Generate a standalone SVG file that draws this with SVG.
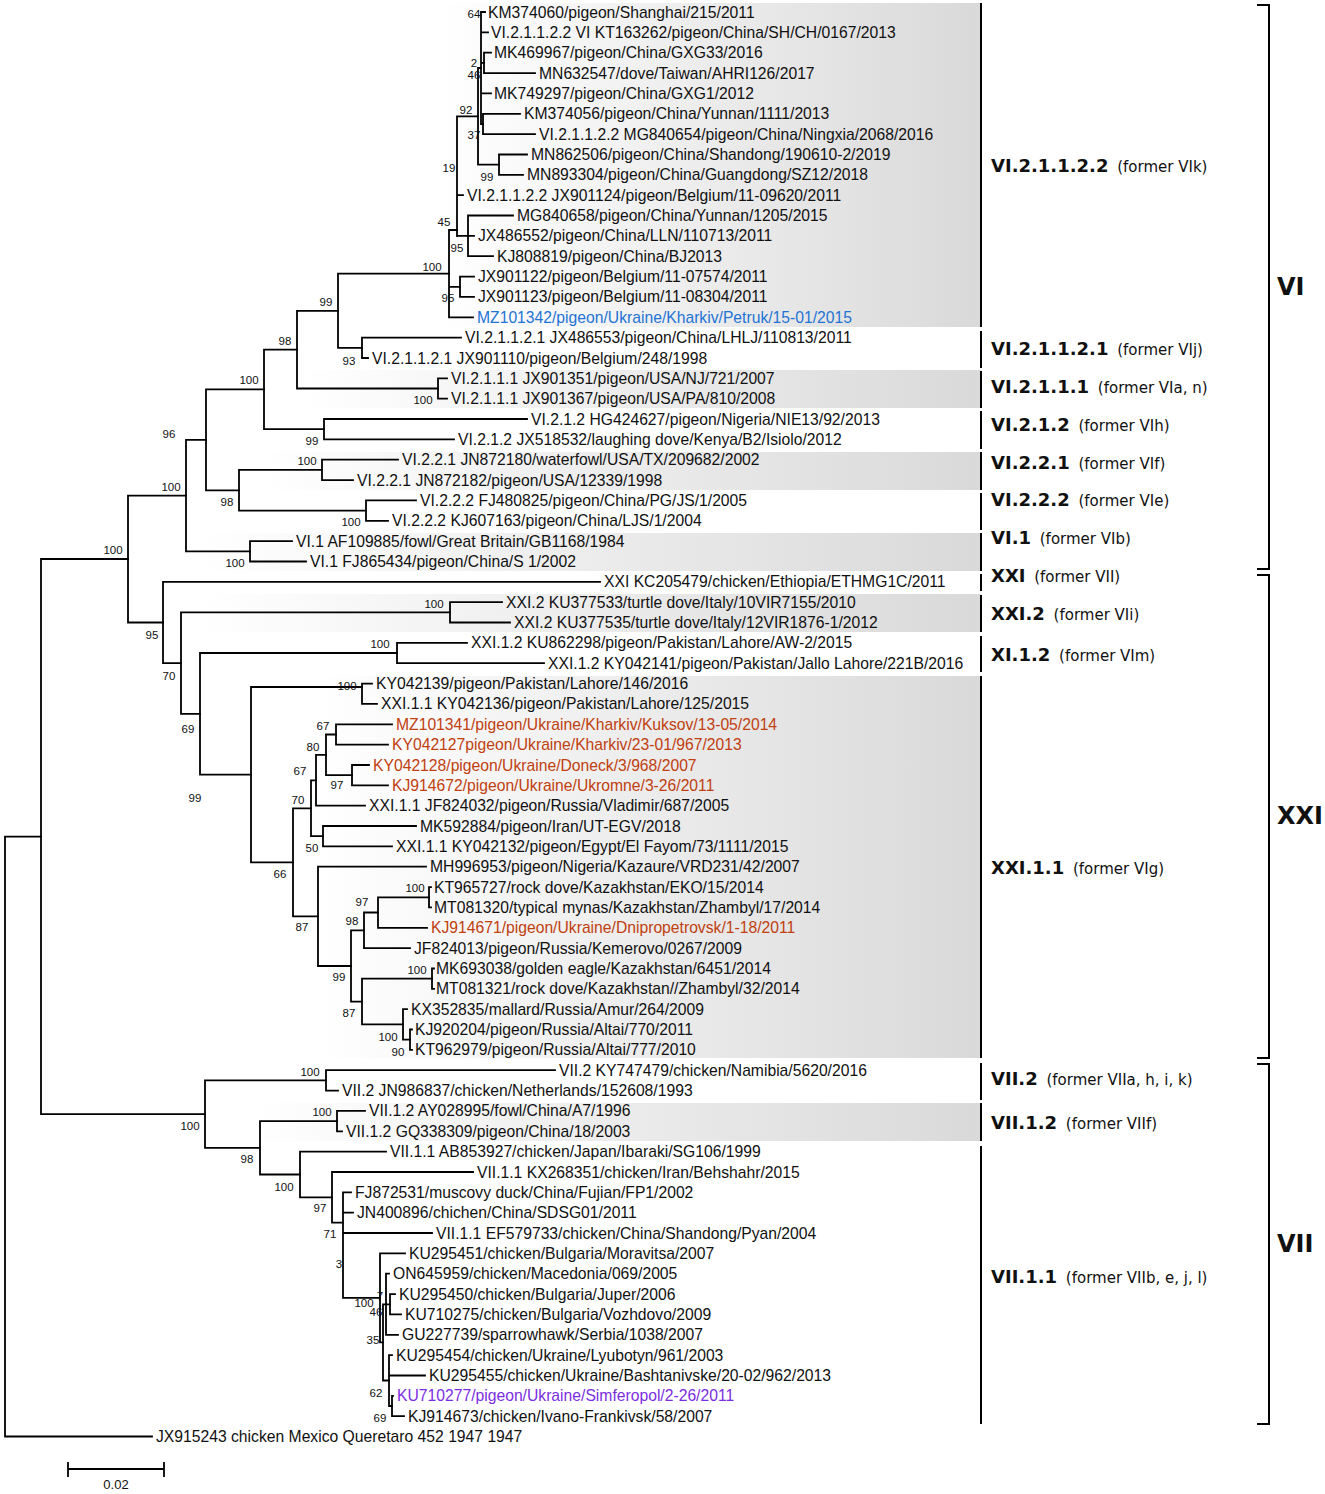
<svg xmlns="http://www.w3.org/2000/svg" width="1325" height="1494" viewBox="0 0 1325 1494">
<defs>
<linearGradient id="shade" x1="0" y1="0" x2="1" y2="0">
<stop offset="0" stop-color="#ffffff"/>
<stop offset="1" stop-color="#d9d9d9"/>
</linearGradient>
<style>
.br{stroke:#000;stroke-width:1.8;fill:none;stroke-linecap:square}
.sep{stroke:#000;stroke-width:2;fill:none}
.lf{font-family:"Liberation Sans",Arial,sans-serif;font-size:15.7px;fill:#111}
.blue{fill:#1f74d4}
.red{fill:#c0400f}
.pur{fill:#7b2ee0}
.bs{font-family:"Liberation Sans",Arial,sans-serif;font-size:11.5px;text-anchor:middle;fill:#111}
.cl{font-family:"DejaVu Sans",Verdana,sans-serif;font-size:15px;fill:#111}
.clb{font-weight:bold;font-size:18px}
.big{font-family:"DejaVu Sans",Verdana,sans-serif;font-size:24px;font-weight:bold;fill:#111}
.band{fill:url(#shade)}
</style>
</defs>
<rect width="1325" height="1494" fill="#fff"/>
<g id="bands">
<rect class="band" x="440" y="3" width="541" height="324"/>
<rect class="band" x="300" y="370" width="681" height="38"/>
<rect class="band" x="260" y="452" width="721" height="38"/>
<rect class="band" x="200" y="533" width="781" height="38"/>
<rect class="band" x="200" y="594" width="781" height="38"/>
<rect class="band" x="320" y="676" width="661" height="382"/>
<rect class="band" x="250" y="1103" width="731" height="38"/>
</g>
<g id="connectors" class="br">
<path d="M481,12V124M481,12H485M481,32.4H488M481,62.9H484M481,93.4H491M481,124H483"/>
<path d="M484,52.7V73.1M484,52.7H491M484,73.1H535"/>
<path d="M483,113.8V134.1M483,113.8H520M483,134.1H535"/>
<path d="M478,68V164.7M478,68H481M478,164.7H499"/>
<path d="M499,154.5V174.8M499,154.5H527M499,174.8H523"/>
<path d="M457,116.4V236M457,116.4H478M457,195.2H463M457,235.9H474"/>
<path d="M468,215.5V256.2M468,215.5H513M468,256.2H493"/>
<path d="M449,230V317.3M449,230H457M449,286.8H460M449,317.3H473"/>
<path d="M460,276.6V296.9M460,276.6H474M460,296.9H474"/>
<path d="M338,273.7V347.8M338,273.7H449M338,347.8H362"/>
<path d="M362,337.6V358M362,337.6H461M362,358H368"/>
<path d="M297,310.8V388.5M297,310.8H338M297,388.5H438"/>
<path d="M438,378.3V398.7M438,378.3H447M438,398.7H447"/>
<path d="M264,349.6V429.2M264,349.6H297M264,429.2H324"/>
<path d="M324,419V439.4M324,419H527M324,439.4H454"/>
<path d="M206,389.4V490.3M206,389.4H264M206,490.3H239"/>
<path d="M239,469.9V510.6M239,469.9H322M239,510.6H366"/>
<path d="M322,459.7V480.1M322,459.7H398M322,480.1H353"/>
<path d="M366,500.4V520.8M366,500.4H416M366,520.8H388"/>
<path d="M186,439.9V551.3M186,439.9H206M186,551.3H250"/>
<path d="M250,541.1V561.5M250,541.1H292M250,561.5H306"/>
<path d="M128,495.6V622.5M128,495.6H186M128,622.5H163"/>
<path d="M163,581.8V663.2M163,581.8H600M163,663.2H181"/>
<path d="M181,612.4V713.9M181,612.4H450M181,713.9H200"/>
<path d="M450,602.2V622.5M450,602.2H502M450,622.5H510"/>
<path d="M200,653V774.7M200,653H397M200,774.7H251"/>
<path d="M397,642.9V663.2M397,642.9H467M397,663.2H544"/>
<path d="M251,687V862.4M251,687H362M251,862.4H293"/>
<path d="M362,683.6V703.9M362,683.6H372M362,703.9H377"/>
<path d="M293,808.3V916.4M293,808.3H311M293,916.4H318"/>
<path d="M311,780.3V836.2M311,780.3H316M311,836.2H323"/>
<path d="M316,754.8V805.7M316,754.8H326M316,805.7H365"/>
<path d="M326,734.5V775.2M326,734.5H336M326,775.2H352"/>
<path d="M336,724.3V744.6M336,724.3H392M336,744.6H388"/>
<path d="M352,765V785.3M352,765H369M352,785.3H388"/>
<path d="M323,826V846.4M323,826H416M323,846.4H392"/>
<path d="M318,866.7V966M318,866.7H426M318,966H351"/>
<path d="M351,930.3V1001.6M351,930.3H364M351,1001.6H362"/>
<path d="M364,912.5V948.1M364,912.5H378M364,948.1H410"/>
<path d="M378,897.3V927.8M378,897.3H429M378,927.8H427"/>
<path d="M429,887.1V907.4M429,887.1H431M429,907.4H431"/>
<path d="M362,978.7V1024.4M362,978.7H432M362,1024.4H403"/>
<path d="M432,968.5V988.8M432,968.5H434M432,988.8H434"/>
<path d="M403,1009.2V1039.7M403,1009.2H407M403,1039.7H410"/>
<path d="M410,1029.5V1049.9M410,1029.5H412M410,1049.9H412"/>
<path d="M41,559V1114.1M41,559H128M41,1114.1H205"/>
<path d="M205,1080.4V1147.8M205,1080.4H326M205,1147.8H260"/>
<path d="M326,1070.2V1090.6M326,1070.2H555M326,1090.6H338"/>
<path d="M260,1121.1V1174.5M260,1121.1H337M260,1174.5H300"/>
<path d="M337,1110.9V1131.3M337,1110.9H365M337,1131.3H342"/>
<path d="M300,1151.6V1197.4M300,1151.6H386M300,1197.4H332"/>
<path d="M332,1172V1222.7M332,1172H473M332,1222.7H343"/>
<path d="M343,1192.3V1297.9M343,1192.3H351M343,1212.7H353M343,1233H432M343,1297.9H380"/>
<path d="M380,1253.4V1342.4M380,1253.4H405M380,1342.4H383"/>
<path d="M383,1304.3V1380.5M383,1304.3H386M383,1380.5H389"/>
<path d="M386,1273.7V1334.8M386,1273.7H389M386,1304.3H390M386,1334.8H398"/>
<path d="M390,1294.1V1314.4M390,1294.1H395M390,1314.4H401"/>
<path d="M389,1355.1V1406M389,1355.1H392M389,1375.5H425M389,1406H392"/>
<path d="M392,1395.8V1416.2M392,1395.8H393M392,1416.2H404"/>
<path d="M5,836.6V1436.5M5,836.6H41M5,1436.5H152"/>
</g>
<g id="support" class="bs">
<text x="474" y="18">64</text><text x="474" y="67">2</text><text x="474" y="79">46</text><text x="466" y="114">92</text><text x="474" y="139">37</text><text x="487" y="181">99</text><text x="449" y="172">19</text><text x="444" y="226">45</text><text x="457" y="252">95</text><text x="448" y="302">95</text><text x="432" y="271">100</text>
<text x="326" y="306">99</text><text x="349" y="365">93</text><text x="285" y="345">98</text><text x="423" y="404">100</text><text x="249" y="384">100</text><text x="312" y="445">99</text><text x="169" y="438">96</text><text x="307" y="465">100</text><text x="227" y="506">98</text><text x="351" y="526">100</text><text x="171" y="491">100</text><text x="235" y="567">100</text><text x="113" y="554">100</text>
<text x="152" y="639">95</text><text x="434" y="608">100</text><text x="169" y="680">70</text><text x="380" y="648">100</text><text x="188" y="733">69</text><text x="195" y="802">99</text><text x="347" y="690">100</text><text x="323" y="730">67</text><text x="313" y="751">80</text><text x="300" y="775">67</text><text x="337" y="789">97</text><text x="298" y="804">70</text><text x="312" y="852">50</text><text x="280" y="878">66</text><text x="302" y="931">87</text><text x="362" y="906">97</text><text x="352" y="925">98</text><text x="415" y="892">100</text><text x="339" y="981">99</text><text x="417" y="974">100</text><text x="349" y="1017">87</text><text x="388" y="1041">100</text><text x="398" y="1056">90</text>
<text x="310" y="1076">100</text><text x="190" y="1130">100</text><text x="322" y="1116">100</text><text x="247" y="1163">98</text><text x="284" y="1191">100</text><text x="320" y="1212">97</text><text x="330" y="1238">71</text><text x="339" y="1268">3</text><text x="380" y="1300">7</text><text x="364" y="1307">100</text><text x="376" y="1316">46</text><text x="373" y="1344">35</text><text x="376" y="1397">62</text><text x="380" y="1422">69</text>
</g>
<g id="leaves" class="lf">
<g id="leaf0"><text x="488" y="17.5">KM374060/pigeon/Shanghai/215/2011</text></g>
<g id="leaf1"><text x="491" y="37.9">VI.2.1.1.2.2 VI KT163262/pigeon/China/SH/CH/0167/2013</text></g>
<g id="leaf2"><text x="494" y="58.2">MK469967/pigeon/China/GXG33/2016</text></g>
<g id="leaf3"><text x="539" y="78.6">MN632547/dove/Taiwan/AHRI126/2017</text></g>
<g id="leaf4"><text x="494" y="98.9">MK749297/pigeon/China/GXG1/2012</text></g>
<g id="leaf5"><text x="524" y="119.3">KM374056/pigeon/China/Yunnan/1111/2013</text></g>
<g id="leaf6"><text x="539" y="139.6">VI.2.1.1.2.2 MG840654/pigeon/China/Ningxia/2068/2016</text></g>
<g id="leaf7"><text x="531" y="160">MN862506/pigeon/China/Shandong/190610-2/2019</text></g>
<g id="leaf8"><text x="527" y="180.3">MN893304/pigeon/China/Guangdong/SZ12/2018</text></g>
<g id="leaf9"><text x="467" y="200.7">VI.2.1.1.2.2 JX901124/pigeon/Belgium/11-09620/2011</text></g>
<g id="leaf10"><text x="517" y="221">MG840658/pigeon/China/Yunnan/1205/2015</text></g>
<g id="leaf11"><text x="478" y="241.4">JX486552/pigeon/China/LLN/110713/2011</text></g>
<g id="leaf12"><text x="497" y="261.7">KJ808819/pigeon/China/BJ2013</text></g>
<g id="leaf13"><text x="478" y="282.1">JX901122/pigeon/Belgium/11-07574/2011</text></g>
<g id="leaf14"><text x="478" y="302.4">JX901123/pigeon/Belgium/11-08304/2011</text></g>
<g id="leaf15"><text class="blue" x="477" y="322.8">MZ101342/pigeon/Ukraine/Kharkiv/Petruk/15-01/2015</text></g>
<g id="leaf16"><text x="465" y="343.1">VI.2.1.1.2.1 JX486553/pigeon/China/LHLJ/110813/2011</text></g>
<g id="leaf17"><text x="372" y="363.5">VI.2.1.1.2.1 JX901110/pigeon/Belgium/248/1998</text></g>
<g id="leaf18"><text x="451" y="383.8">VI.2.1.1.1 JX901351/pigeon/USA/NJ/721/2007</text></g>
<g id="leaf19"><text x="451" y="404.2">VI.2.1.1.1 JX901367/pigeon/USA/PA/810/2008</text></g>
<g id="leaf20"><text x="531" y="424.5">VI.2.1.2 HG424627/pigeon/Nigeria/NIE13/92/2013</text></g>
<g id="leaf21"><text x="458" y="444.9">VI.2.1.2 JX518532/laughing dove/Kenya/B2/Isiolo/2012</text></g>
<g id="leaf22"><text x="402" y="465.2">VI.2.2.1 JN872180/waterfowl/USA/TX/209682/2002</text></g>
<g id="leaf23"><text x="357" y="485.6">VI.2.2.1 JN872182/pigeon/USA/12339/1998</text></g>
<g id="leaf24"><text x="420" y="505.9">VI.2.2.2 FJ480825/pigeon/China/PG/JS/1/2005</text></g>
<g id="leaf25"><text x="392" y="526.3">VI.2.2.2 KJ607163/pigeon/China/LJS/1/2004</text></g>
<g id="leaf26"><text x="296" y="546.6">VI.1 AF109885/fowl/Great Britain/GB1168/1984</text></g>
<g id="leaf27"><text x="310" y="567">VI.1 FJ865434/pigeon/China/S 1/2002</text></g>
<g id="leaf28"><text x="604" y="587.3">XXI KC205479/chicken/Ethiopia/ETHMG1C/2011</text></g>
<g id="leaf29"><text x="506" y="607.7">XXI.2 KU377533/turtle dove/Italy/10VIR7155/2010</text></g>
<g id="leaf30"><text x="514" y="628">XXI.2 KU377535/turtle dove/Italy/12VIR1876-1/2012</text></g>
<g id="leaf31"><text x="471" y="648.4">XXI.1.2 KU862298/pigeon/Pakistan/Lahore/AW-2/2015</text></g>
<g id="leaf32"><text x="548" y="668.7">XXI.1.2 KY042141/pigeon/Pakistan/Jallo Lahore/221B/2016</text></g>
<g id="leaf33"><text x="376" y="689.1">KY042139/pigeon/Pakistan/Lahore/146/2016</text></g>
<g id="leaf34"><text x="381" y="709.4">XXI.1.1 KY042136/pigeon/Pakistan/Lahore/125/2015</text></g>
<g id="leaf35"><text class="red" x="396" y="729.8">MZ101341/pigeon/Ukraine/Kharkiv/Kuksov/13-05/2014</text></g>
<g id="leaf36"><text class="red" x="392" y="750.1">KY042127pigeon/Ukraine/Kharkiv/23-01/967/2013</text></g>
<g id="leaf37"><text class="red" x="373" y="770.5">KY042128/pigeon/Ukraine/Doneck/3/968/2007</text></g>
<g id="leaf38"><text class="red" x="392" y="790.8">KJ914672/pigeon/Ukraine/Ukromne/3-26/2011</text></g>
<g id="leaf39"><text x="369" y="811.2">XXI.1.1 JF824032/pigeon/Russia/Vladimir/687/2005</text></g>
<g id="leaf40"><text x="420" y="831.5">MK592884/pigeon/Iran/UT-EGV/2018</text></g>
<g id="leaf41"><text x="396" y="851.9">XXI.1.1 KY042132/pigeon/Egypt/El Fayom/73/1111/2015</text></g>
<g id="leaf42"><text x="430" y="872.2">MH996953/pigeon/Nigeria/Kazaure/VRD231/42/2007</text></g>
<g id="leaf43"><text x="434" y="892.6">KT965727/rock dove/Kazakhstan/EKO/15/2014</text></g>
<g id="leaf44"><text x="434" y="912.9">MT081320/typical mynas/Kazakhstan/Zhambyl/17/2014</text></g>
<g id="leaf45"><text class="red" x="431" y="933.3">KJ914671/pigeon/Ukraine/Dnipropetrovsk/1-18/2011</text></g>
<g id="leaf46"><text x="414" y="953.6">JF824013/pigeon/Russia/Kemerovo/0267/2009</text></g>
<g id="leaf47"><text x="436" y="974">MK693038/golden eagle/Kazakhstan/6451/2014</text></g>
<g id="leaf48"><text x="436" y="994.3">MT081321/rock dove/Kazakhstan//Zhambyl/32/2014</text></g>
<g id="leaf49"><text x="411" y="1014.7">KX352835/mallard/Russia/Amur/264/2009</text></g>
<g id="leaf50"><text x="415" y="1035">KJ920204/pigeon/Russia/Altai/770/2011</text></g>
<g id="leaf51"><text x="415" y="1055.4">KT962979/pigeon/Russia/Altai/777/2010</text></g>
<g id="leaf52"><text x="559" y="1075.7">VII.2 KY747479/chicken/Namibia/5620/2016</text></g>
<g id="leaf53"><text x="342" y="1096.1">VII.2 JN986837/chicken/Netherlands/152608/1993</text></g>
<g id="leaf54"><text x="369" y="1116.4">VII.1.2 AY028995/fowl/China/A7/1996</text></g>
<g id="leaf55"><text x="346" y="1136.8">VII.1.2 GQ338309/pigeon/China/18/2003</text></g>
<g id="leaf56"><text x="390" y="1157.1">VII.1.1 AB853927/chicken/Japan/Ibaraki/SG106/1999</text></g>
<g id="leaf57"><text x="477" y="1177.5">VII.1.1 KX268351/chicken/Iran/Behshahr/2015</text></g>
<g id="leaf58"><text x="355" y="1197.8">FJ872531/muscovy duck/China/Fujian/FP1/2002</text></g>
<g id="leaf59"><text x="357" y="1218.2">JN400896/chichen/China/SDSG01/2011</text></g>
<g id="leaf60"><text x="436" y="1238.5">VII.1.1 EF579733/chicken/China/Shandong/Pyan/2004</text></g>
<g id="leaf61"><text x="409" y="1258.9">KU295451/chicken/Bulgaria/Moravitsa/2007</text></g>
<g id="leaf62"><text x="393" y="1279.2">ON645959/chicken/Macedonia/069/2005</text></g>
<g id="leaf63"><text x="399" y="1299.6">KU295450/chicken/Bulgaria/Juper/2006</text></g>
<g id="leaf64"><text x="405" y="1319.9">KU710275/chicken/Bulgaria/Vozhdovo/2009</text></g>
<g id="leaf65"><text x="402" y="1340.3">GU227739/sparrowhawk/Serbia/1038/2007</text></g>
<g id="leaf66"><text x="396" y="1360.6">KU295454/chicken/Ukraine/Lyubotyn/961/2003</text></g>
<g id="leaf67"><text x="429" y="1381">KU295455/chicken/Ukraine/Bashtanivske/20-02/962/2013</text></g>
<g id="leaf68"><text class="pur" x="397" y="1401.3">KU710277/pigeon/Ukraine/Simferopol/2-26/2011</text></g>
<g id="leaf69"><text x="408" y="1421.7">KJ914673/chicken/Ivano-Frankivsk/58/2007</text></g>
<g id="leaf70"><text x="156" y="1442">JX915243 chicken Mexico Queretaro 452 1947 1947</text></g>
</g>
<g id="separators" class="sep">
<path d="M981,3V327M981,331V368M981,371V408M981,411V449M981,452V490M981,493V530M981,533V571M981,574V591M981,595V632M981,636V672M981,676V1058M981,1063V1100M981,1103V1141M981,1146V1424"/>
</g>
<g id="clade-labels" class="cl">
<g id="c1"><text x="991" y="171.5"><tspan class="clb">VI.2.1.1.2.2</tspan><tspan dx="4"> (former VIk)</tspan></text></g>
<g id="c2"><text x="991" y="354.5"><tspan class="clb">VI.2.1.1.2.1</tspan><tspan dx="4"> (former VIj)</tspan></text></g>
<g id="c3"><text x="991" y="392.5"><tspan class="clb">VI.2.1.1.1</tspan><tspan dx="4"> (former VIa, n)</tspan></text></g>
<g id="c4"><text x="991" y="430.5"><tspan class="clb">VI.2.1.2</tspan><tspan dx="4"> (former VIh)</tspan></text></g>
<g id="c5"><text x="991" y="468.5"><tspan class="clb">VI.2.2.1</tspan><tspan dx="4"> (former VIf)</tspan></text></g>
<g id="c6"><text x="991" y="505.5"><tspan class="clb">VI.2.2.2</tspan><tspan dx="4"> (former VIe)</tspan></text></g>
<g id="c7"><text x="991" y="543.5"><tspan class="clb">VI.1</tspan><tspan dx="4"> (former VIb)</tspan></text></g>
<g id="c8"><text x="991" y="581.5"><tspan class="clb">XXI</tspan><tspan dx="4"> (former VII)</tspan></text></g>
<g id="c9"><text x="991" y="619.5"><tspan class="clb">XXI.2</tspan><tspan dx="4"> (former VIi)</tspan></text></g>
<g id="c10"><text x="991" y="660.5"><tspan class="clb">XI.1.2</tspan><tspan dx="4"> (former VIm)</tspan></text></g>
<g id="c11"><text x="991" y="873.5"><tspan class="clb">XXI.1.1</tspan><tspan dx="4"> (former VIg)</tspan></text></g>
<g id="c12"><text x="991" y="1084.5"><tspan class="clb">VII.2</tspan><tspan dx="4"> (former VIIa, h, i, k)</tspan></text></g>
<g id="c13"><text x="991" y="1128.5"><tspan class="clb">VII.1.2</tspan><tspan dx="4"> (former VIIf)</tspan></text></g>
<g id="c14"><text x="991" y="1282.5"><tspan class="clb">VII.1.1</tspan><tspan dx="4"> (former VIIb, e, j, l)</tspan></text></g>
</g>
<g id="genotypes">
<g id="gVI"><path class="sep" d="M1257,5H1269V569H1257"/><text class="big" x="1277" y="295">VI</text></g>
<g id="gXXI"><path class="sep" d="M1257,575H1269V1058H1257"/><text class="big" x="1277" y="824">XXI</text></g>
<g id="gVII"><path class="sep" d="M1257,1064H1269V1424H1257"/><text class="big" x="1277" y="1252">VII</text></g>
</g>
<g id="scale">
<path class="br" d="M68,1469H164M68,1463V1476M164,1463V1476"/>
<text x="116" y="1489" style="font-family:'Liberation Sans',Arial,sans-serif;font-size:13px;text-anchor:middle;fill:#111">0.02</text>
</g>
</svg>
